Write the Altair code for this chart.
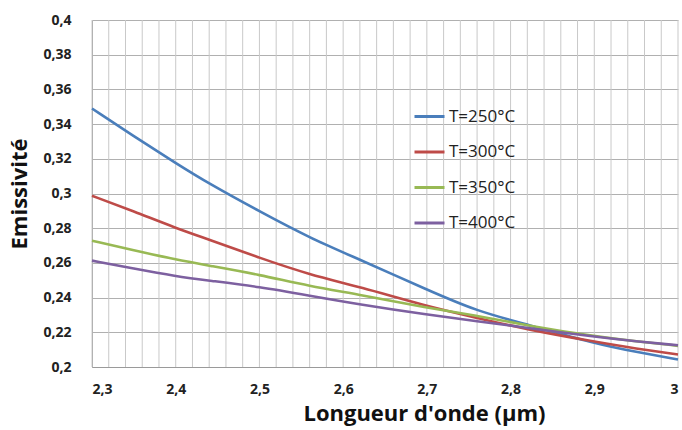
import altair as alt
import pandas as pd

wavelength = [2.3, 2.35, 2.4, 2.44, 2.5, 2.56, 2.62, 2.7, 2.76, 2.82, 2.9, 2.95, 3.0]
t250 = [0.349, 0.333, 0.3175, 0.3056, 0.2897, 0.2744, 0.2619, 0.2446, 0.2321, 0.2245, 0.2136, 0.2087, 0.2043]
t300 = [0.2987, 0.2897, 0.2801, 0.2734, 0.2629, 0.2532, 0.2462, 0.2350, 0.2283, 0.2216, 0.2146, 0.2106, 0.2072]
t350 = [0.2728, 0.2673, 0.2619, 0.2584, 0.2532, 0.2465, 0.2417, 0.2341, 0.2296, 0.2239, 0.2177, 0.2148, 0.2122]
t400 = [0.2613, 0.2567, 0.2523, 0.2498, 0.2462, 0.2411, 0.2360, 0.2302, 0.2264, 0.2226, 0.2174, 0.2148, 0.2125]
series_names = ["T=250°C", "T=300°C", "T=350°C", "T=400°C"]
series_colors = ["#4A7EBB", "#BE4B48", "#98B954", "#7D60A0"]
x_ticks = [2.3, 2.4, 2.5, 2.6, 2.7, 2.8, 2.9, 3.0]
x_grid = [round(2.3 + 0.02 * i, 2) for i in range(36)]
y_ticks = [0.2, 0.22, 0.24, 0.26, 0.28, 0.3, 0.32, 0.34, 0.36, 0.38, 0.4]

rows = []
for name, vals in zip(series_names, [t250, t300, t350, t400]):
    for x, y in zip(wavelength, vals):
        rows.append({"x": x, "y": y, "serie": name})
df = pd.DataFrame(rows)
grid_df = pd.DataFrame({"x": x_grid})

FONT = "Open Sans"
xscale = alt.Scale(domain=[2.3, 3.0], nice=False, zero=False)
yscale = alt.Scale(domain=[0.2, 0.4], nice=False, zero=False)

x_axis = alt.Axis(values=x_ticks,
                  labelExpr="replace(format(datum.value, '.1~f'), '.', ',')",
                  title="Longueur d'onde (µm)",
                  titleX=332,
                  titlePadding=7,
                  ticks=False, grid=False,
                  labelPadding=15,
                  domainColor="#9a9a9a")

vgrid = alt.Chart(grid_df).mark_rule(color="#c9c9c9", strokeWidth=1).encode(
    x=alt.X("x:Q", scale=xscale, axis=x_axis)
)

lines = alt.Chart(df).mark_line(strokeWidth=2.6, interpolate="basis").encode(
    x=alt.X("x:Q", scale=xscale, axis=x_axis),
    y=alt.Y("y:Q", scale=yscale,
            axis=alt.Axis(values=y_ticks,
                          labelExpr="replace(format(datum.value, '.2~f'), '.', ',')",
                          title="Emissivité",
                          titlePadding=11,
                          ticks=False,
                          labelPadding=21,
                          gridColor="#b0b0b0",
                          domainColor="#9a9a9a")),
    color=alt.Color("serie:N",
                    scale=alt.Scale(domain=series_names, range=series_colors),
                    legend=alt.Legend(title=None, orient="none", legendX=321, legendY=80,
                                      symbolType="stroke", symbolSize=900, symbolStrokeWidth=3,
                                      labelFontSize=17, labelFont=FONT, labelColor="#222222",
                                      rowPadding=10.5, labelOffset=3, padding=0)),
)

chart = alt.layer(vgrid, lines).properties(
    width=586, height=347,
    autosize=alt.AutoSizeParams(type="none"),
    padding={"left": 92, "top": 20, "right": 4, "bottom": 63},
).configure_view(stroke=None).configure_axis(
    labelFont=FONT, labelFontSize=14, labelFontWeight="bold", labelColor="#222222",
    titleFont=FONT, titleFontSize=22, titleFontWeight="bold", titleColor="#111111",
)

chart.save("out.html", embed_options={"renderer": "svg", "actions": False})
